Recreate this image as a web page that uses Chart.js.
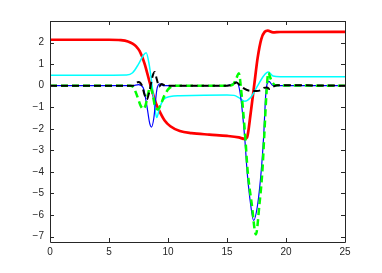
<!DOCTYPE html>
<html>
<head>
<meta charset="utf-8">
<script src="https://cdn.jsdelivr.net/npm/chart.js@4"></script>
<style>
    html, body { margin: 0; padding: 0; background: #fff; }
    #wrap { width: 382px; height: 273px; position: relative; }
</style>
</head>
<body>
<div id="wrap"><canvas id="mainChart"></canvas></div>
<script>
// Series values
const redX = [0, 5, 6, 6.6, 7.0, 7.3, 7.6, 8.0, 8.5, 9.0, 9.3, 9.7, 10.2, 11.0, 12.0, 13.5, 15.0, 16.0, 16.5, 16.7, 17.0, 17.3, 17.6, 17.9, 18.2, 18.45, 18.9, 19.5, 25];
const redY = [2.13, 2.13, 2.11, 2.05, 1.95, 1.82, 1.6, 1.05, 0.05, -0.85, -1.2, -1.6, -1.88, -2.1, -2.2, -2.27, -2.33, -2.4, -2.47, -2.4, -1.3, 0, 1.3, 2.15, 2.5, 2.55, 2.47, 2.49, 2.5];

const cyanX = [0, 6.5, 7.0, 7.5, 7.9, 8.15, 8.4, 8.7, 8.9, 9.05, 9.25, 9.6, 10.2, 11, 15, 15.6, 16.0, 16.5, 17.0, 17.6, 18.1, 18.5, 18.9, 19.5, 25];
const cyanY = [0.48, 0.5, 0.6, 1.0, 1.4, 1.53, 1.0, -0.2, -1.1, -1.48, -1.1, -0.65, -0.5, -0.47, -0.43, -0.45, -0.55, -0.72, -0.55, 0, 0.45, 0.63, 0.45, 0.42, 0.42];

const blueX = [0, 7.0, 7.5, 7.9, 8.2, 8.45, 8.6, 8.8, 9.05, 9.3, 9.6, 15.0, 15.5, 15.8, 16.1, 16.5, 16.7, 17.0, 17.25, 17.6, 17.9, 18.1, 18.3, 18.55, 18.9, 25];
const blueY = [0, 0, 0.05, -0.1, -0.9, -1.75, -1.92, -1.5, -0.2, 0.08, 0, 0, 0.08, 0.17, -0.3, -2.4, -3.95, -5.5, -6.25, -5.5, -3.95, -2.4, -0.3, 0.2, 0, 0];

const greenX = [0, 6.8, 7.1, 7.4, 7.7, 7.9, 8.1, 8.3, 8.5, 8.7, 8.9, 9.15, 9.4, 9.7, 10.1, 10.8, 15.0, 15.5, 15.8, 16.0, 16.2, 16.55, 16.75, 17.1, 17.45, 17.75, 18.0, 18.15, 18.35, 18.5, 18.75, 19.1, 25];
const greenY = [0, 0, -0.1, -0.5, -0.95, -1.08, -0.9, -0.4, -0.05, -0.4, -0.95, -1.1, -0.85, -0.45, -0.12, 0, 0, 0.05, 0.35, 0.58, -0.2, -2.4, -3.95, -5.5, -6.9, -5.5, -3.95, -2.4, -0.3, 0.6, 0.25, 0.02, 0];

const blackX = [0, 7.0, 7.5, 7.8, 8.0, 8.2, 8.45, 8.7, 8.87, 9.05, 9.25, 9.45, 9.8, 15.0, 15.5, 15.8, 16.1, 16.5, 17.0, 17.5, 17.8, 18.1, 18.4, 18.6, 18.9, 19.3, 25];
const blackY = [0, 0, 0.17, 0.0, -0.4, -0.64, -0.2, 0.45, 0.63, 0.3, -0.05, 0.08, 0, 0, 0.05, 0.15, 0.02, -0.15, -0.24, -0.25, -0.22, -0.1, -0.08, -0.15, -0.05, 0.02, 0];

// Axis ticks
const xTicks = [0, 5, 10, 15, 20, 25];
const yTicks = [-7, -6, -5, -4, -3, -2, -1, 0, 1, 2];

function toPoints(xs, ys) {
    return xs.map((x, i) => ({ x: x, y: ys[i] }));
}

function lineSet(label, xs, ys, color, width, dash) {
    return {
        label: label,
        data: toPoints(xs, ys),
        borderColor: color,
        backgroundColor: color,
        borderWidth: width,
        borderDash: dash || [],
        pointRadius: 0,
        fill: false,
        cubicInterpolationMode: 'monotone'
    };
}

// MATLAB style box with inward ticks on all four sides
const boxPlugin = {
    id: 'boxPlugin',
    afterDatasetsDraw(chart) {
        const { ctx, chartArea: a, scales } = chart;
        const len = 4;
        ctx.save();
        ctx.strokeStyle = '#262626';
        ctx.lineWidth = 1;
        ctx.beginPath();
        ctx.rect(Math.round(a.left) + 0.5, Math.round(a.top) + 0.5,
                 Math.round(a.right - a.left), Math.round(a.bottom - a.top));
        xTicks.forEach(v => {
            const px = Math.round(scales.x.getPixelForValue(v)) + 0.5;
            ctx.moveTo(px, a.bottom); ctx.lineTo(px, a.bottom - len);
            ctx.moveTo(px, a.top); ctx.lineTo(px, a.top + len);
        });
        yTicks.forEach(v => {
            const py = Math.round(scales.y.getPixelForValue(v)) + 0.5;
            ctx.moveTo(a.left, py); ctx.lineTo(a.left + len, py);
            ctx.moveTo(a.right, py); ctx.lineTo(a.right - len, py);
        });
        ctx.stroke();
        ctx.restore();
    }
};

function fmt(v) {
    return v < 0 ? '\u2212' + Math.abs(v) : String(v);
}

const ctx = document.getElementById('mainChart').getContext('2d');
const chart = new Chart(ctx, {
    type: 'line',
    data: {
        datasets: [
            lineSet('black', blackX, blackY, '#000000', 2, [7, 4]),
            lineSet('green', greenX, greenY, '#00ff00', 2.5, [7, 4]),
            lineSet('blue', blueX, blueY, '#0000ff', 1.2),
            lineSet('cyan', cyanX, cyanY, '#00ffff', 1.5),
            lineSet('red', redX, redY, '#ff0000', 2.7)
        ]
    },
    options: {
        responsive: true,
        maintainAspectRatio: false,
        animation: false,
        layout: { padding: { left: 0, right: 37, top: 21, bottom: 0 } },
        plugins: {
            legend: { display: false },
            tooltip: { enabled: false }
        },
        scales: {
            x: {
                type: 'linear',
                min: 0,
                max: 25,
                grid: { display: false, drawTicks: false },
                border: { display: false },
                afterBuildTicks: s => { s.ticks = xTicks.map(v => ({ value: v })); },
                afterFit: s => { s.height = 31; },
                ticks: {
                    padding: 4,
                    color: '#262626',
                    font: { family: 'Liberation Sans', size: 10 },
                    maxRotation: 0,
                    callback: v => fmt(v)
                }
            },
            y: {
                type: 'linear',
                min: -7.25,
                max: 3,
                grid: { display: false, drawTicks: false },
                border: { display: false },
                afterBuildTicks: s => { s.ticks = yTicks.map(v => ({ value: v })); },
                afterFit: s => { s.width = 50; },
                ticks: {
                    padding: 6,
                    color: '#262626',
                    font: { family: 'Liberation Sans', size: 10 },
                    callback: v => fmt(v)
                }
            }
        }
    },
    plugins: [boxPlugin]
});
</script>
</body>
</html>
